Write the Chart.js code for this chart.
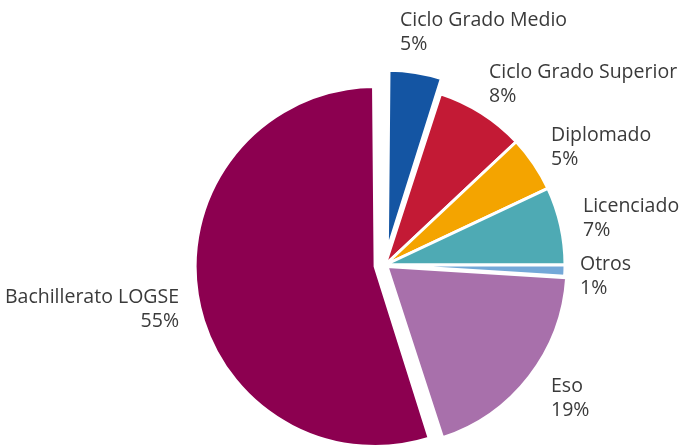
<!DOCTYPE html>
<html lang="es">
<head>
<meta charset="UTF-8">
<title>Distribución por nivel de estudios</title>
<script src="https://cdn.jsdelivr.net/npm/chart.js"></script>
<style>
  body { margin: 0; background: #fff; }
  #wrap { width: 680px; height: 446px; }
</style>
</head>
<body>
<div id="wrap"><canvas id="myChart" width="680" height="446"></canvas></div>
<script>
// datos (sentido horario desde las 12)
const categorias = ['Ciclo Grado Medio', 'Ciclo Grado Superior', 'Diplomado', 'Licenciado', 'Otros', 'Eso', 'Bachillerato LOGSE'];
const porcentajes = [5, 8, 5, 7, 1, 19, 55];
const colores = ['#1455a3', '#c31a35', '#f4a400', '#4eaab4', '#74a8d8', '#a870ab', '#8c0050'];

// separación de cada porción (Chart.js v4 desplaza offset/4 px)
const separacion = [60, 0, 0, 0, 0, 10, 40];
const radioBase = 180;

// posición de cada etiqueta respecto al centro de la tarta
const etiquetaPos = [
    { dx: 15, dy: -239, align: 'left' },
    { dx: 104, dy: -187, align: 'left' },
    { dx: 166, dy: -124, align: 'left' },
    { dx: 198, dy: -53, align: 'left' },
    { dx: 195, dy: 5, align: 'left' },
    { dx: 166, dy: 127, align: 'left' },
    { dx: -206, dy: 38, align: 'right' }
];

// Chart.js agranda el radio de las porciones separadas; lo dejamos igual para todas
const radioIgual = {
    id: 'radioIgual',
    beforeDatasetsDraw: chart => {
        chart.getDatasetMeta(0).data.forEach((arc, i) => {
            const t = separacion[i] / 4;
            const fix = 1 - Math.sin(Math.min(Math.PI, arc.circumference));
            arc.outerRadius = radioBase - t * fix;
        });
    }
};

const etiquetas = {
    id: 'etiquetas',
    afterDraw: chart => {
        const ctx = chart.ctx;
        const arc = chart.getDatasetMeta(0).data[0];
        ctx.save();
        ctx.font = '19.5px "Open Sans", sans-serif';
        ctx.fillStyle = '#3a3a3a';
        ctx.textBaseline = 'alphabetic';
        categorias.forEach((c, i) => {
            const p = etiquetaPos[i];
            ctx.textAlign = p.align;
            ctx.fillText(c, arc.x + p.dx, arc.y + p.dy);
            ctx.fillText(porcentajes[i] + '%', arc.x + p.dx, arc.y + p.dy + 23.5);
        });
        ctx.restore();
    }
};

new Chart(document.getElementById('myChart').getContext('2d'), {
    type: 'pie',
    data: {
        labels: categorias,
        datasets: [{
            data: porcentajes,
            backgroundColor: colores,
            borderColor: '#ffffff',
            borderWidth: 3,
            offset: separacion,
            radius: radioBase
        }]
    },
    options: {
        responsive: false,
        animation: false,
        layout: { padding: { left: 90, right: 0, top: 84, bottom: 0 } },
        plugins: {
            legend: { display: false },
            tooltip: { enabled: false }
        }
    },
    plugins: [radioIgual, etiquetas]
});
</script>
</body>
</html>
